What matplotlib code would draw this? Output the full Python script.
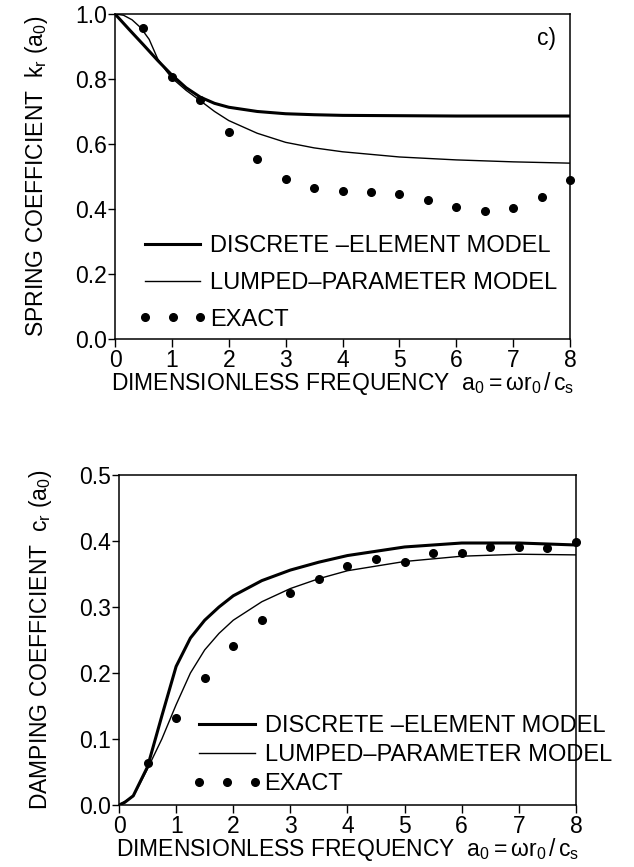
import matplotlib
matplotlib.use("Agg")
import matplotlib.pyplot as plt
from matplotlib.lines import Line2D

plt.rcParams['font.family'] = ['Liberation Sans', 'DejaVu Sans']
plt.rcParams['mathtext.fontset'] = 'custom'
plt.rcParams['mathtext.rm'] = 'Liberation Sans'
plt.rcParams['mathtext.it'] = 'Liberation Sans'

# spring coefficient k_r(a0)
k_disc_x = [0, 0.25, 0.5, 0.75, 1.0, 1.25, 1.5, 1.75, 2.0, 2.5, 3.0, 3.5, 4, 5, 6, 7, 8]
k_disc_y = [1.0, 0.952, 0.905, 0.857, 0.812, 0.773, 0.744, 0.725, 0.713, 0.700, 0.693,
            0.690, 0.688, 0.687, 0.686, 0.686, 0.686]
k_lump_x = [0, 0.15, 0.3, 0.45, 0.6, 0.75, 0.9, 1.0, 1.25, 1.5, 1.75, 2.0, 2.5, 3.0, 3.5,
            4, 5, 6, 7, 8]
k_lump_y = [1.0, 0.996, 0.982, 0.958, 0.922, 0.862, 0.825, 0.803, 0.765, 0.733, 0.700,
            0.672, 0.633, 0.605, 0.588, 0.576, 0.560, 0.551, 0.545, 0.541]
k_exact_x = [0.5, 1.0, 1.5, 2.0, 2.5, 3.0, 3.5, 4.0, 4.5, 5.0, 5.5, 6.0, 6.5, 7.0, 7.5, 8.0]
k_exact_y = [0.957, 0.805, 0.735, 0.637, 0.554, 0.492, 0.465, 0.455, 0.452, 0.446, 0.428,
             0.406, 0.394, 0.403, 0.437, 0.490]

# damping coefficient c_r(a0)
c_disc_x = [0, 0.1, 0.25, 0.5, 0.75, 1.0, 1.25, 1.5, 1.75, 2.0, 2.5, 3.0, 3.5, 4, 5, 6, 7, 8]
c_disc_y = [0, 0.004, 0.014, 0.058, 0.135, 0.210, 0.253, 0.280, 0.300, 0.317, 0.340, 0.356,
            0.368, 0.378, 0.391, 0.397, 0.397, 0.394]
c_lump_x = [0, 0.25, 0.5, 0.75, 1.0, 1.25, 1.5, 1.75, 2.0, 2.5, 3.0, 3.5, 4, 5, 6, 7, 8]
c_lump_y = [0, 0.013, 0.055, 0.100, 0.152, 0.200, 0.235, 0.260, 0.280, 0.308, 0.328, 0.343,
            0.355, 0.369, 0.377, 0.380, 0.379]
c_exact_x = [0.5, 1.0, 1.5, 2.0, 2.5, 3.0, 3.5, 4.0, 4.5, 5.0, 5.5, 6.0, 6.5, 7.0, 7.5, 8.0]
c_exact_y = [0.064, 0.132, 0.193, 0.241, 0.281, 0.321, 0.342, 0.362, 0.373, 0.368, 0.382,
             0.382, 0.391, 0.391, 0.389, 0.398]

labels = ['DISCRETE –ELEMENT MODEL', 'LUMPED–PARAMETER MODEL', 'EXACT']
xlabel = r'DIMENSIONLESS FREQUENCY  $\mathregular{a_0 = ωr_0\,/\,c_s}$'

fig = plt.figure(figsize=(6.34, 8.67), dpi=100)
ax1 = fig.add_axes([0.1814, 0.609, 0.7177, 0.3749])
ax2 = fig.add_axes([0.1877, 0.0715, 0.7208, 0.3806])

FS = 16.5
TFS = 16.5
LFS = 17


def style(ax, ymax, ystep):
    ax.set_xlim(0, 8)
    ax.set_ylim(0, ymax)
    ax.set_xticks(range(0, 9))
    ax.set_yticks([round(i * ystep, 1) for i in range(int(round(ymax / ystep)) + 1)])
    ax.yaxis.set_major_formatter(matplotlib.ticker.FormatStrFormatter('%.1f'))
    ax.tick_params(axis='y', direction='out', length=5, width=1, labelsize=TFS, pad=0.5)
    ax.tick_params(axis='x', direction='out', length=6, width=1, labelsize=TFS, pad=1)
    for s in ax.spines.values():
        s.set_linewidth(1.1)
    ax.set_xlabel(xlabel, fontsize=FS, labelpad=-1)


def draw(ax, dx, dy, lx, ly, ex, ey, anchor, spacing):
    ax.plot(dx, dy, color='black', lw=2.2)
    ax.plot(lx, ly, color='black', lw=1.0)
    ax.plot(ex, ey, 'o', color='black', ms=5.5, clip_on=False)
    handles = [Line2D([], [], color='black', lw=2.2),
               Line2D([], [], color='black', lw=1.0),
               Line2D([], [], ls='none', marker='o', color='black', ms=5.5)]
    ax.legend(handles, labels, loc='lower left', bbox_to_anchor=anchor, frameon=False,
              fontsize=LFS, numpoints=3, handlelength=2.95, handletextpad=0.12,
              borderpad=0, borderaxespad=0, labelspacing=spacing)


style(ax1, 1.0, 0.2)
draw(ax1, k_disc_x, k_disc_y, k_lump_x, k_lump_y, k_exact_x, k_exact_y,
     (0.05, 0.026), 0.62)
ax1.set_ylabel(r'SPRING COEFFICIENT  $\mathregular{k_r\ (a_0)}$', fontsize=FS, labelpad=18)
ax1.text(0.97, 0.96, 'c)', transform=ax1.transAxes, ha='right', va='top', fontsize=FS)

style(ax2, 0.5, 0.1)
draw(ax2, c_disc_x, c_disc_y, c_lump_x, c_lump_y, c_exact_x, c_exact_y,
     (0.16, 0.03), 0.3)
ax2.set_ylabel(r'DAMPING COEFFICIENT  $\mathregular{c_r\ (a_0)}$', fontsize=FS, labelpad=18)

fig.savefig('out.png', dpi=100)
